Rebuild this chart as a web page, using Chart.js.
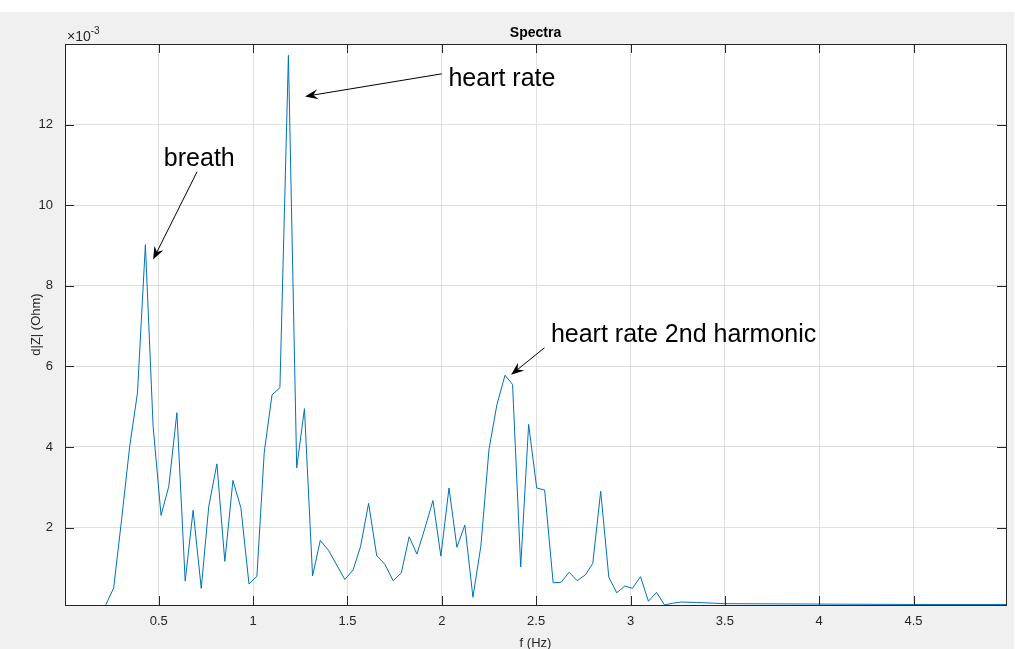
<!DOCTYPE html>
<html>
<head>
<meta charset="utf-8">
<script src="https://cdn.jsdelivr.net/npm/chart.js@4"></script>
<style>
  html, body { margin: 0; padding: 0; background: #ffffff; }
  #wrap { width: 1015px; height: 649px; }
</style>
</head>
<body>
<div id="wrap"><canvas id="spectraChart" width="1015" height="649"></canvas></div>
<script>
// frequency (Hz) and d|Z| (x 1e-3 Ohm)
const freqHz = [
  0.219, 0.261, 0.303, 0.346, 0.387, 0.429, 0.470, 0.512, 0.553, 0.596,
  0.640, 0.682, 0.725, 0.765, 0.808, 0.850, 0.893, 0.935, 0.978, 1.020,
  1.059, 1.100, 1.142, 1.187, 1.231, 1.272, 1.315, 1.356, 1.400, 1.443,
  1.486, 1.530, 1.569, 1.612, 1.655, 1.698, 1.742, 1.785, 1.827, 1.868,
  1.911, 1.953, 1.995, 2.038, 2.080, 2.122, 2.165, 2.207, 2.250, 2.292,
  2.335, 2.375, 2.418, 2.460, 2.503, 2.545, 2.590, 2.632, 2.675, 2.717,
  2.760, 2.800, 2.842, 2.885, 2.927, 2.970, 3.010, 3.053, 3.095, 3.138,
  3.180, 3.222, 3.265, 3.350, 3.500, 4.000, 4.500, 4.990
];
const dZ = [
  0.08, 0.50, 2.20, 4.02, 5.34, 9.02, 4.51, 2.30, 3.02, 4.85,
  0.67, 2.43, 0.49, 2.53, 3.58, 1.16, 3.17, 2.49, 0.60, 0.79,
  3.87, 5.29, 5.47, 13.72, 3.48, 4.95, 0.80, 1.68, 1.43, 1.07,
  0.71, 0.95, 1.52, 2.60, 1.30, 1.09, 0.68, 0.87, 1.77, 1.34,
  1.99, 2.67, 1.29, 2.98, 1.51, 2.06, 0.27, 1.54, 3.94, 5.05,
  5.78, 5.55, 1.02, 4.56, 2.98, 2.93, 0.63, 0.64, 0.89, 0.68,
  0.82, 1.11, 2.90, 0.77, 0.38, 0.55, 0.49, 0.78, 0.17, 0.39,
  0.08, 0.12, 0.15, 0.14, 0.11, 0.10, 0.09, 0.09
];
const xTicks = [0.5, 1, 1.5, 2, 2.5, 3, 3.5, 4, 4.5];
const yTicks = [2, 4, 6, 8, 10, 12];

// text + arrow annotations, in data units
const notes = [
  { text: "breath", at: [0.527, 10.97], from: [0.703, 10.83], to: [0.470, 8.65] },
  { text: "heart rate", at: [2.035, 12.97], from: [2.000, 13.26], to: [1.275, 12.70] },
  { text: "heart rate 2nd harmonic", at: [2.578, 6.60], from: [2.544, 6.46], to: [2.367, 5.79] }
];

const axisColor = "#262626";
const gridColor = "#dfdfdf";
const fontFamily = "'Liberation Sans', Arial, Helvetica, sans-serif";

const points = freqHz.map((f, i) => ({ x: f, y: dZ[i] }));

// figure background, axes box, inward ticks, labels, annotations
const matlabLook = {
  id: "matlabLook",
  beforeDraw(chart) {
    const ctx = chart.ctx;
    const a = chart.chartArea;
    ctx.save();
    ctx.fillStyle = "#ffffff";
    ctx.fillRect(0, 0, chart.width, chart.height);
    ctx.fillStyle = "#f0f0f0";
    ctx.fillRect(0, 12, chart.width - 1, chart.height - 12);
    ctx.fillStyle = "#ffffff";
    ctx.fillRect(a.left, a.top, a.right - a.left, a.bottom - a.top);
    ctx.restore();
  },
  afterDraw(chart) {
    const ctx = chart.ctx;
    const a = chart.chartArea;
    const xs = chart.scales.x;
    const ys = chart.scales.y;
    const tick = 9;
    ctx.save();

    // ticks on all four sides, pointing in
    ctx.strokeStyle = axisColor;
    ctx.lineWidth = 1;
    ctx.beginPath();
    xTicks.forEach(v => {
      const px = Math.round(xs.getPixelForValue(v)) + 0.5;
      ctx.moveTo(px, a.bottom); ctx.lineTo(px, a.bottom - tick);
      ctx.moveTo(px, a.top); ctx.lineTo(px, a.top + tick);
    });
    yTicks.forEach(v => {
      const py = Math.round(ys.getPixelForValue(v)) + 0.5;
      ctx.moveTo(a.left, py); ctx.lineTo(a.left + tick, py);
      ctx.moveTo(a.right, py); ctx.lineTo(a.right - tick, py);
    });
    ctx.stroke();

    // box
    ctx.strokeRect(Math.round(a.left) + 0.5, Math.round(a.top) + 0.5,
      Math.round(a.right - a.left), Math.round(a.bottom - a.top));

    // title
    ctx.fillStyle = "#000000";
    ctx.font = "bold 14px " + fontFamily;
    ctx.textAlign = "center";
    ctx.textBaseline = "alphabetic";
    ctx.fillText("Spectra", (a.left + a.right) / 2, 37);

    // exponent
    ctx.fillStyle = axisColor;
    ctx.textAlign = "left";
    ctx.font = "14px " + fontFamily;
    ctx.fillText("\u00d710", a.left + 2, 41);
    const w = ctx.measureText("\u00d710").width;
    ctx.font = "10px " + fontFamily;
    ctx.fillText("-3", a.left + 2 + w, 34);

    // axis titles
    ctx.font = "13px " + fontFamily;
    ctx.textAlign = "center";
    ctx.fillText("f (Hz)", (a.left + a.right) / 2, 647);
    ctx.save();
    ctx.translate(40, (a.top + a.bottom) / 2);
    ctx.rotate(-Math.PI / 2);
    ctx.fillText("d|Z| (Ohm)", 0, 0);
    ctx.restore();

    // annotations
    notes.forEach(n => {
      const tx = xs.getPixelForValue(n.at[0]);
      const ty = ys.getPixelForValue(n.at[1]);
      const x0 = xs.getPixelForValue(n.from[0]);
      const y0 = ys.getPixelForValue(n.from[1]);
      const x1 = xs.getPixelForValue(n.to[0]);
      const y1 = ys.getPixelForValue(n.to[1]);
      ctx.fillStyle = "#000000";
      ctx.font = "25px " + fontFamily;
      ctx.textAlign = "left";
      ctx.fillText(n.text, tx, ty);

      const dx = x1 - x0, dy = y1 - y0;
      const len = Math.hypot(dx, dy);
      const ux = dx / len, uy = dy / len;
      const nx = -uy, ny = ux;
      const L = 13, W = 5;
      ctx.strokeStyle = "#000000";
      ctx.lineWidth = 1;
      ctx.beginPath();
      ctx.moveTo(x0, y0);
      ctx.lineTo(x1 - ux * L * 0.6, y1 - uy * L * 0.6);
      ctx.stroke();
      ctx.beginPath();
      ctx.moveTo(x1, y1);
      ctx.lineTo(x1 - ux * L + nx * W, y1 - uy * L + ny * W);
      ctx.lineTo(x1 - ux * L * 0.65, y1 - uy * L * 0.65);
      ctx.lineTo(x1 - ux * L - nx * W, y1 - uy * L - ny * W);
      ctx.closePath();
      ctx.fill();
    });
    ctx.restore();
  }
};

const spectraChart = new Chart(document.getElementById("spectraChart").getContext("2d"), {
  type: "line",
  data: {
    datasets: [{
      data: points,
      borderColor: "#0072bd",
      borderWidth: 1,
      pointRadius: 0,
      tension: 0,
      fill: false
    }]
  },
  options: {
    responsive: false,
    animation: false,
    devicePixelRatio: 1,
    layout: { padding: { top: 44, right: 9, left: 0, bottom: 0 } },
    plugins: { legend: { display: false }, tooltip: { enabled: false }, title: { display: false } },
    scales: {
      x: {
        type: "linear",
        min: 0.003,
        max: 4.99,
        afterBuildTicks: s => { s.ticks = xTicks.map(v => ({ value: v })); },
        afterFit: s => { s.height = 44; },
        grid: { color: gridColor, drawTicks: false, lineWidth: 1 },
        border: { display: false },
        ticks: {
          color: axisColor,
          font: { family: fontFamily, size: 13 },
          padding: 9,
          maxRotation: 0,
          autoSkip: false,
          callback: v => String(v)
        }
      },
      y: {
        type: "linear",
        min: 0.077,
        max: 14.0,
        afterBuildTicks: s => { s.ticks = yTicks.map(v => ({ value: v })); },
        afterFit: s => { s.width = 65; },
        grid: { color: gridColor, drawTicks: false, lineWidth: 1 },
        border: { display: false },
        ticks: {
          color: axisColor,
          font: { family: fontFamily, size: 13 },
          padding: 12,
          autoSkip: false,
          callback: v => String(v)
        }
      }
    }
  },
  plugins: [matlabLook]
});
</script>
</body>
</html>
